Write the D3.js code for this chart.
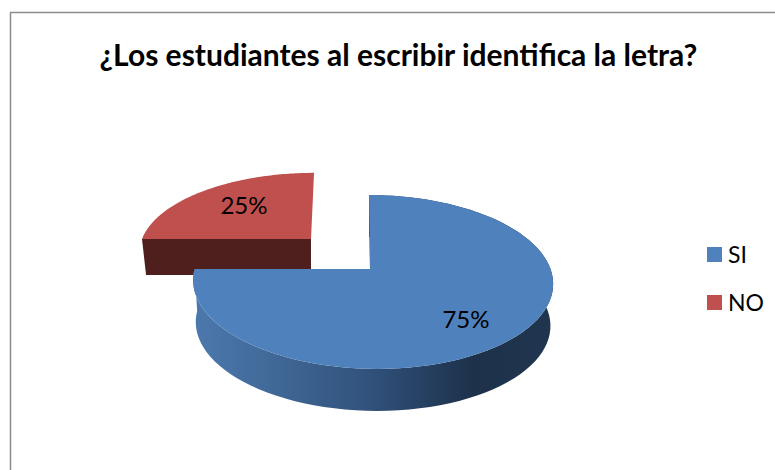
<!DOCTYPE html>
<html>
<head>
<meta charset="utf-8">
<script src="https://cdn.jsdelivr.net/npm/d3@7"></script>
<style>
  html, body { margin: 0; padding: 0; background: #fff; overflow: hidden; }
  text { font-family: Lato, "Open Sans", sans-serif; fill: #000; }
</style>
</head>
<body>
<div id="chart"></div>
<script>
const title = "¿Los estudiantes al escribir identifica la letra?";
const categories = ["SI", "NO"];
const values = [75, 25];
const colors = ["#4f81bd", "#c0504d"];

const width = 775;
const height = 470;

const svg = d3.select("#chart").append("svg")
  .attr("width", width)
  .attr("height", height);

// gradient for the rim of the blue slice
const grad = svg.append("defs").append("linearGradient")
  .attr("id", "rim")
  .attr("gradientUnits", "userSpaceOnUse")
  .attr("x1", 192).attr("x2", 553).attr("y1", 0).attr("y2", 0);
[[0, "#4c79ae"], [0.2, "#426a9a"], [0.5, "#30517a"], [0.78, "#1d314a"], [1, "#20354f"]]
  .forEach(s => grad.append("stop").attr("offset", s[0]).attr("stop-color", s[1]));

// chart frame
svg.append("path")
  .attr("d", "M10.5,470V12.5H775")
  .attr("fill", "none")
  .attr("stroke", "#8c8c8c")
  .attr("stroke-width", 1.5);

svg.append("text")
  .attr("x", 398.5)
  .attr("y", 66)
  .attr("text-anchor", "middle")
  .attr("font-size", 30)
  .attr("font-weight", 700)
  .text(title);

// each slice sits on its own perspective ellipse
const shapes = [
  { cx: 372.5, cy: 269, apexX: 370, a: 178, b: 85, k: 0.149, skew: -4, depth: 42, inset: 0.985 },
  { cx: 311, cy: 239, apexX: 311, a: 169, b: 76, k: 0.149, skew: 3.5, depth: 36, inset: 0.976 }
];

function project(s, angle, drop) {
  const u = Math.sin(angle);
  const v = Math.cos(angle);
  const w = 1 + s.k * v;
  const scale = drop ? s.inset : 1;
  return [
    s.cx + scale * (s.a * u + s.skew * v) / w,
    s.cy - s.b * v / w + (drop ? s.depth : 0)
  ];
}

const line = d3.line();
const pieData = d3.pie().sort(null)(values);

function edge(s, d, drop) {
  const n = 90;
  return d3.range(n + 1).map(i => project(s, d.startAngle + (d.endAngle - d.startAngle) * i / n, drop));
}

// red slice goes first, the blue one overlaps its wall
const drawOrder = [1, 0];
drawOrder.forEach(i => {
  const d = pieData[i];
  const s = shapes[i];
  const g = svg.append("g");
  const top = edge(s, d, false);
  const bottom = edge(s, d, true);
  const apex = [s.apexX, s.cy];

  if (i === 0) {
    g.append("path")
      .attr("d", line(top.concat(bottom.slice().reverse())) + "Z")
      .attr("fill", "url(#rim)");
    // thin wall along the start edge
    g.append("path")
      .attr("d", line([apex, top[0], [top[0][0] + 2.5, top[0][1] + 4], [apex[0] + 1.5, apex[1]]]) + "Z")
      .attr("fill", "#1f3550");
  } else {
    const left = top[0];
    const leftLow = bottom[0];
    g.append("path")
      .attr("d", line([left, apex, [apex[0], apex[1] + s.depth], leftLow]) + "Z")
      .attr("fill", "#4e1f1d");
  }

  g.append("path")
    .attr("d", line([apex].concat(top)) + "Z")
    .attr("fill", colors[i]);
});

const pct = d3.format(".0%");
const total = d3.sum(values);
const labelPos = [[466, 328], [244, 214]];
svg.selectAll(".pct")
  .data(values)
  .enter()
  .append("text")
  .attr("class", "pct")
  .attr("x", (d, i) => labelPos[i][0])
  .attr("y", (d, i) => labelPos[i][1])
  .attr("text-anchor", "middle")
  .attr("font-size", 24)
  .text(d => pct(d / total));

// legend
const legendY = d3.scalePoint().domain(categories).range([254.5, 302.5]);
const legend = svg.selectAll(".legend")
  .data(categories)
  .enter()
  .append("g")
  .attr("class", "legend")
  .attr("transform", d => `translate(707,${legendY(d)})`);
legend.append("rect")
  .attr("x", 0).attr("y", -7.5)
  .attr("width", 15).attr("height", 15)
  .attr("fill", (d, i) => colors[i]);
legend.append("text")
  .attr("x", 21)
  .attr("y", 8)
  .attr("font-size", 23)
  .text(d => d);
</script>
</body>
</html>
